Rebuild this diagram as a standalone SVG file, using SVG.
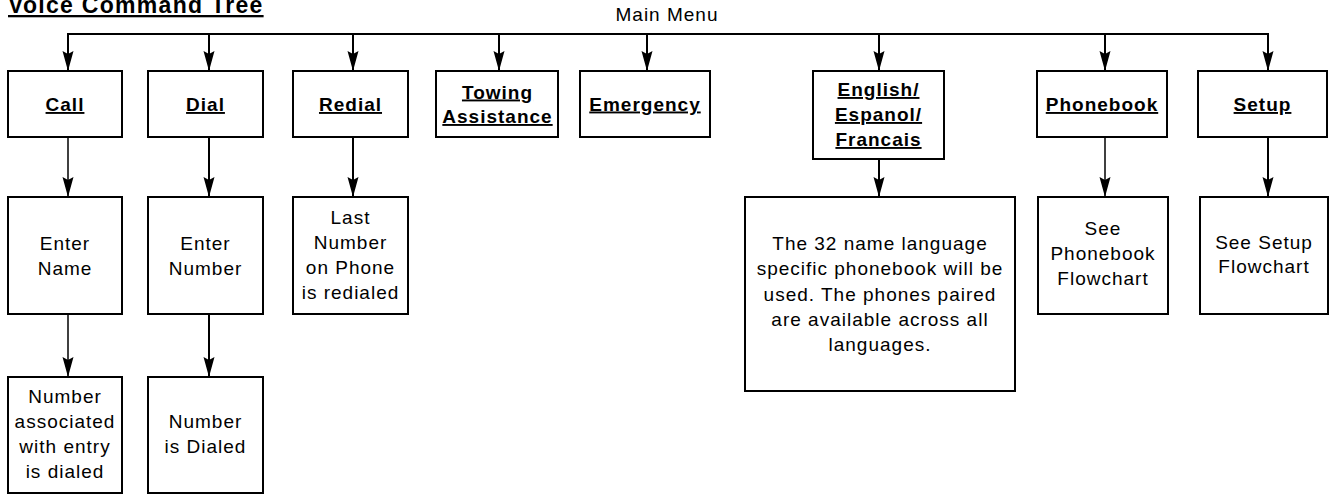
<svg xmlns="http://www.w3.org/2000/svg" width="1330" height="497" viewBox="0 0 1330 497">
<style>
.box{fill:#fff;stroke:#000;stroke-width:2}
.t{font-family:"Liberation Sans",Arial,Helvetica,sans-serif;font-size:19px;letter-spacing:1px;text-anchor:middle;fill:#000}
.b{font-weight:bold;text-decoration:underline;text-decoration-skip-ink:none}
.c{fill:none;stroke:#000;stroke-width:2}
.thin{stroke-width:1.5}
</style>
<defs>
<marker id="ah" viewBox="0 -6 20 12" refX="20" refY="0" markerWidth="20" markerHeight="12" markerUnits="userSpaceOnUse" orient="auto">
<path d="M0,-5.5 L20,0 L0,5.5 L3,0 Z" fill="#000"/>
</marker>
</defs>
<rect width="1330" height="497" fill="#fff"/>
<text x="8" y="13" style="font-family:'Liberation Sans',Arial,sans-serif;font-size:23px;font-weight:bold;letter-spacing:1.3px;text-decoration:underline;text-decoration-skip-ink:none">Voice Command Tree</text>
<text class="t" x="667" y="21">Main Menu</text>
<g id="connectors">
<path class="c" d="M67,34 H1269"/>
<path class="c" d="M68,34 V71" marker-end="url(#ah)"/>
<path class="c" d="M209,34 V71" marker-end="url(#ah)"/>
<path class="c" d="M353,34 V71" marker-end="url(#ah)"/>
<path class="c" d="M499,34 V71" marker-end="url(#ah)"/>
<path class="c" d="M647,34 V71" marker-end="url(#ah)"/>
<path class="c" d="M879,34 V71" marker-end="url(#ah)"/>
<path class="c" d="M1105,34 V71" marker-end="url(#ah)"/>
<path class="c" d="M1268,34 V71" marker-end="url(#ah)"/>
<path class="c thin" d="M68,137 V197" marker-end="url(#ah)"/>
<path class="c" d="M209,137 V197" marker-end="url(#ah)"/>
<path class="c" d="M353,137 V197" marker-end="url(#ah)"/>
<path class="c" d="M879,159 V197" marker-end="url(#ah)"/>
<path class="c thin" d="M1105,137 V197" marker-end="url(#ah)"/>
<path class="c" d="M1268,137 V197" marker-end="url(#ah)"/>
<path class="c thin" d="M68,314 V377" marker-end="url(#ah)"/>
<path class="c" d="M209,314 V377" marker-end="url(#ah)"/>
</g>
<g id="call"><rect class="box" x="8" y="71" width="114" height="66"/><text class="t b" x="65" y="111">Call</text></g>
<g id="dial"><rect class="box" x="148" y="71" width="115" height="66"/><text class="t b" x="205.5" y="111">Dial</text></g>
<g id="redial"><rect class="box" x="293" y="71" width="115" height="66"/><text class="t b" x="350.5" y="111">Redial</text></g>
<g id="towing"><rect class="box" x="436" y="71" width="122" height="66"/><text class="t b" x="497.5" y="98.5">Towing</text><text class="t b" x="497.5" y="123">Assistance</text></g>
<g id="emergency"><rect class="box" x="580" y="71" width="130" height="66"/><text class="t b" x="645" y="110.5">Emergency</text></g>
<g id="language"><rect class="box" x="813" y="71" width="131" height="88"/><text class="t b" x="878.5" y="96">English/</text><text class="t b" x="878.5" y="121">Espanol/</text><text class="t b" x="878.5" y="146">Francais</text></g>
<g id="phonebook"><rect class="box" x="1037" y="71" width="130" height="66"/><text class="t b" x="1102" y="111">Phonebook</text></g>
<g id="setup"><rect class="box" x="1198" y="71" width="129" height="66"/><text class="t b" x="1262.5" y="111">Setup</text></g>
<g id="enter-name"><rect class="box" x="8" y="197" width="114" height="117"/><text class="t" x="65" y="250">Enter</text><text class="t" x="65" y="275">Name</text></g>
<g id="enter-number"><rect class="box" x="148" y="197" width="115" height="117"/><text class="t" x="205.5" y="250">Enter</text><text class="t" x="205.5" y="275">Number</text></g>
<g id="last-number"><rect class="box" x="293" y="197" width="115" height="117"/><text class="t" x="350.5" y="224">Last</text><text class="t" x="350.5" y="249">Number</text><text class="t" x="350.5" y="274">on Phone</text><text class="t" x="350.5" y="299">is redialed</text></g>
<g id="language-note"><rect class="box" x="745" y="197" width="270" height="194"/><text class="t" x="880" y="249.5">The 32 name language</text><text class="t" x="880" y="275">specific phonebook will be</text><text class="t" x="880" y="300.5">used. The phones paired</text><text class="t" x="880" y="326">are available across all</text><text class="t" x="880" y="351">languages.</text></g>
<g id="see-phonebook"><rect class="box" x="1038" y="197" width="130" height="117"/><text class="t" x="1103" y="234.5">See</text><text class="t" x="1103" y="259.5">Phonebook</text><text class="t" x="1103" y="284.5">Flowchart</text></g>
<g id="see-setup"><rect class="box" x="1200" y="197" width="128" height="117"/><text class="t" x="1264" y="248.5">See Setup</text><text class="t" x="1264" y="273">Flowchart</text></g>
<g id="number-associated"><rect class="box" x="8" y="377" width="114" height="116"/><text class="t" x="65" y="403">Number</text><text class="t" x="65" y="428">associated</text><text class="t" x="65" y="453">with entry</text><text class="t" x="65" y="478">is dialed</text></g>
<g id="number-dialed"><rect class="box" x="148" y="377" width="115" height="116"/><text class="t" x="205.5" y="428">Number</text><text class="t" x="205.5" y="453">is Dialed</text></g>
</svg>
